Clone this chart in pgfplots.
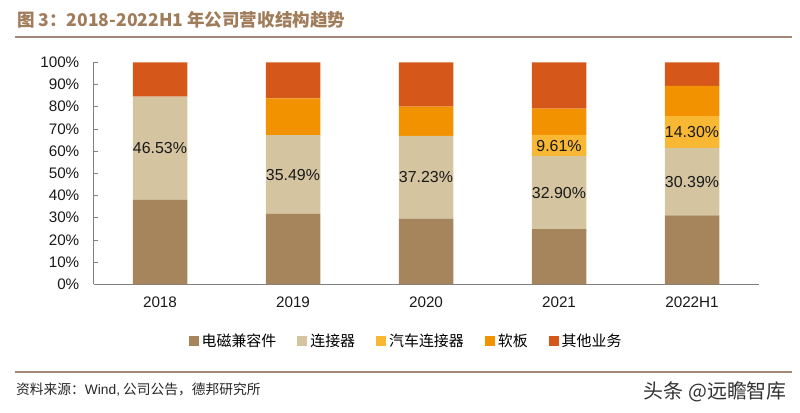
\documentclass[border=0pt]{standalone}
\usepackage{fontspec}
\usepackage{pgfplots}
\pgfplotsset{compat=1.18}
\setmainfont{Liberation Sans}
\newfontfamily\cjk{Noto Sans CJK SC}
\newcommand\legfont{\cjk\fontsize{15}{17}\selectfont}
\newcommand\lblfont{\fontsize{16}{18}\selectfont}
\newcommand\tickfont{\fontsize{15.3}{17}\selectfont}
\definecolor{cBrown}{RGB}{166,132,92}
\definecolor{cBeige}{RGB}{212,196,160}
\definecolor{cYellow}{RGB}{248,184,52}
\definecolor{cOrange}{RGB}{243,146,0}
\definecolor{cRed}{RGB}{213,88,26}
\definecolor{cTitle}{RGB}{160,124,90}
\definecolor{cLine}{RGB}{164,138,118}
\definecolor{cAxis}{RGB}{128,128,128}
\begin{document}
\begin{tikzpicture}[x=1bp,y=1bp]
\useasboundingbox (0,0) rectangle (800,412);
% title
\node[anchor=west,inner sep=0pt,text=cTitle] at (17,392) {\cjk\bfseries\fontsize{17.6}{20}\selectfont 图 3：2018-2022H1 年公司营收结构趋势};
\draw[cLine,line width=2bp] (15,375.3) -- (791.7,375.3);
\draw[cLine,line width=2bp] (15,40.3) -- (791.7,40.3);
\node[anchor=west,inner sep=0pt,text=black!85] at (16,22) {\cjk\fontsize{13.8}{15}\selectfont 资料来源：{\rmfamily Wind,} 公司公告，德邦研究所};
\node[anchor=east,inner sep=0pt,text=black!80] at (787,20.3) {\cjk\fontsize{20}{22}\selectfont 头条 @远瞻智库};
\begin{axis}[
  at={(93.5bp,127.7bp)}, anchor=south west,
  scale only axis, width=665bp, height=222bp,
  ybar stacked, bar width=54.5bp,
  xmin=-0.5, xmax=4.5, ymin=0, ymax=100,
  axis x line*=bottom, axis y line*=left,
  axis line style={cAxis, line width=0.8bp},
  xtick={0,1,2,3,4},
  xticklabels={2018,2019,2020,2021,2022H1},
  extra x ticks={-0.5,0.5,1.5,2.5,3.5,4.5},
  extra x tick labels={},
  extra x tick style={major tick length=4bp, tick style={cAxis, line width=0.8bp}},
  x tick style={draw=none},
  ytick={0,10,20,30,40,50,60,70,80,90,100},
  yticklabels={0\%,10\%,20\%,30\%,40\%,50\%,60\%,70\%,80\%,90\%,100\%},
  y tick style={cAxis, line width=0.8bp},
  major tick length=4bp,
  tick align=inside,
  ticklabel style={font=\tickfont, text=black!90},
  xticklabel style={inner sep=0pt, yshift=-12bp},
  yticklabel style={inner sep=0pt, xshift=-14bp},
  legend columns=5,
  legend style={at={(0.47,-0.2554)}, anchor=center, draw=none, fill=none,
    font=\legfont,
    /tikz/every odd column/.append style={column sep=1bp},
    /tikz/every even column/.append style={column sep=19bp},
    inner sep=0pt},
  legend image code/.code={\fill[#1] (0bp,-5bp) rectangle (10bp,5bp);},
  clip=false,
  point meta=explicit symbolic,
]
\addplot[fill=cBrown, draw=none] coordinates {(0,38.0) (1,31.7) (2,29.6) (3,24.8) (4,31.1)};
\addplot[fill=cBeige, draw=none, nodes near coords,
  every node near coord/.append style={anchor=center, inner sep=0pt, font=\lblfont, text=black!90}]
  coordinates {(0,46.53) [46.53\%] (1,35.49) [35.49\%] (2,37.23) [37.23\%] (3,32.90) [32.90\%] (4,30.39) [30.39\%]};
\addplot[fill=cYellow, draw=none, nodes near coords,
  every node near coord/.append style={anchor=center, inner sep=0pt, font=\lblfont, text=black!90}]
  coordinates {(0,0) [] (1,0) [] (2,0) [] (3,9.61) [9.61\%] (4,14.30) [14.30\%]};
\addplot[fill=cOrange, draw=none] coordinates {(0,0) (1,16.6) (2,13.2) (3,11.8) (4,13.6)};
\addplot[fill=cRed, draw=none] coordinates {(0,15.47) (1,16.21) (2,19.97) (3,20.89) (4,10.61)};
\legend{电磁兼容件,连接器,汽车连接器,软板,其他业务}
\end{axis}
\end{tikzpicture}
\end{document}
